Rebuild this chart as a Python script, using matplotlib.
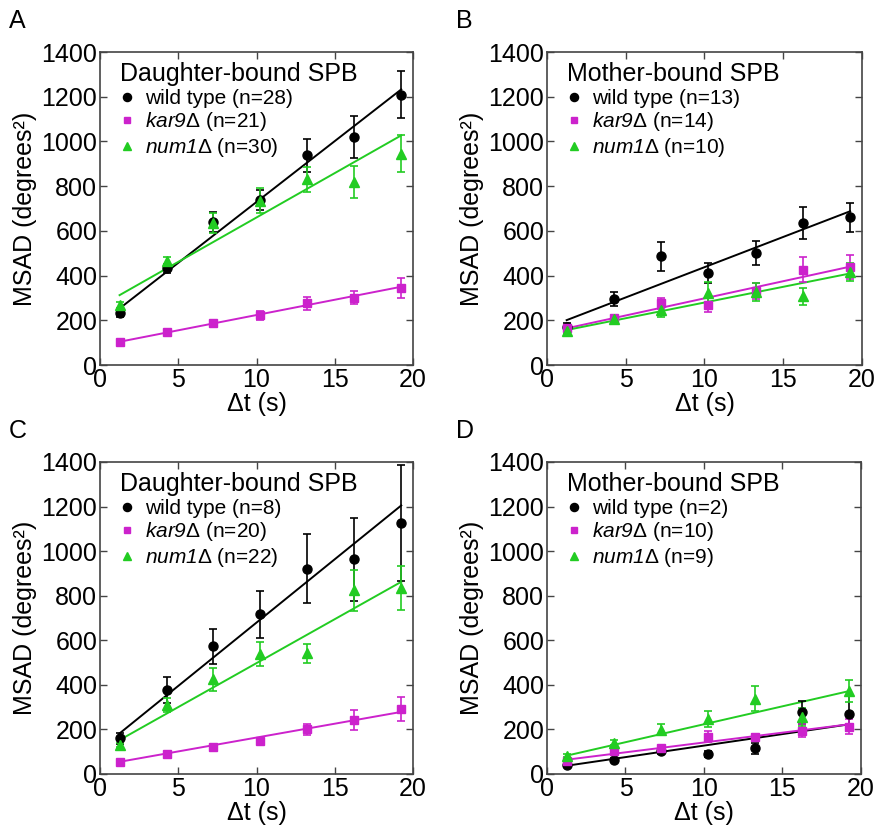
import numpy as np
import matplotlib
matplotlib.use("Agg")
import matplotlib.pyplot as plt

plt.rcParams['font.family'] = ['Liberation Sans', 'DejaVu Sans']
plt.rcParams['mathtext.fontset'] = 'custom'
plt.rcParams['mathtext.it'] = 'Liberation Sans:italic'
plt.rcParams['mathtext.rm'] = 'Liberation Sans:italic'  # so the digit in kar9 / num1 is italic too

# time lags (s)
dt = np.array([1.25, 4.25, 7.25, 10.25, 13.25, 16.25, 19.25])

# panel A - daughter-bound SPB
a_wt = [231, 432, 640, 740, 938, 1020, 1209]
a_wt_err = [15, 22, 45, 45, 75, 95, 105]
a_kar9 = [101, 147, 189, 223, 276, 301, 343]
a_kar9_err = [6, 8, 10, 20, 30, 30, 45]
a_num1 = [268, 466, 636, 735, 830, 819, 946]
a_num1_err = [12, 15, 45, 55, 55, 73, 82]

# panel B - mother-bound SPB
b_wt = [171, 295, 487, 413, 502, 636, 660]
b_wt_err = [15, 33, 65, 45, 53, 73, 65]
b_kar9 = [164, 209, 276, 268, 332, 427, 439]
b_kar9_err = [10, 10, 25, 30, 35, 55, 55]
b_num1 = [152, 206, 246, 323, 328, 308, 417]
b_num1_err = [10, 12, 30, 50, 40, 38, 40]

# panel C - daughter-bound SPB
c_wt = [160, 376, 573, 717, 922, 963, 1128]
c_wt_err = [25, 57, 78, 105, 157, 187, 260]
c_kar9 = [52, 90, 122, 149, 200, 242, 291]
c_kar9_err = [6, 8, 8, 10, 25, 45, 55]
c_num1 = [130, 309, 424, 538, 541, 824, 836]
c_num1_err = [10, 30, 52, 53, 43, 93, 98]

# panel D - mother-bound SPB
d_wt = [42, 64, 101, 89, 116, 276, 271]
d_wt_err = [8, 8, 12, 12, 25, 52, 78]
d_kar9 = [60, 101, 115, 167, 164, 194, 213]
d_kar9_err = [6, 10, 10, 25, 15, 30, 35]
d_num1 = [82, 141, 198, 246, 338, 256, 372]
d_num1_err = [8, 12, 25, 35, 55, 40, 50]

# fitted lines (slope, intercept)
fits = {
    'A': [(54.44, 185), (13.67, 87), (39.7, 263)],
    'B': [(27.06, 167), (15.33, 145), (14.06, 139)],
    'C': [(56.83, 111), (12.44, 39), (39.44, 103)],
    'D': [(10.33, 24), (8.83, 53), (16.11, 62)],
}

panels = [
    ('A', 'Daughter-bound SPB', [a_wt, a_kar9, a_num1], [a_wt_err, a_kar9_err, a_num1_err], (28, 21, 30)),
    ('B', 'Mother-bound SPB', [b_wt, b_kar9, b_num1], [b_wt_err, b_kar9_err, b_num1_err], (13, 14, 10)),
    ('C', 'Daughter-bound SPB', [c_wt, c_kar9, c_num1], [c_wt_err, c_kar9_err, c_num1_err], (8, 20, 22)),
    ('D', 'Mother-bound SPB', [d_wt, d_kar9, d_num1], [d_wt_err, d_kar9_err, d_num1_err], (2, 10, 9)),
]

colors = ['black', '#cc22cc', '#22cc22']
markers = ['o', 's', '^']
msizes = [6.5, 5.5, 7]
names = ['wild type', r'$kar9$Δ', r'$num1$Δ']

fig = plt.figure(figsize=(8.75, 8.3), dpi=100)
positions = {
    'A': [0.1143, 0.5602, 0.3577, 0.3771],
    'B': [0.6251, 0.5602, 0.3600, 0.3771],
    'C': [0.1143, 0.0675, 0.3577, 0.3759],
    'D': [0.6251, 0.0675, 0.3589, 0.3759],
}

for letter, title, ys, errs, ns in panels:
    ax = fig.add_axes(positions[letter])
    handles = []
    for k in range(3):
        slope, icpt = fits[letter][k]
        ax.plot(dt, slope * dt + icpt, color=colors[k], lw=1.4, zorder=2)
        ax.errorbar(dt, ys[k], yerr=errs[k], fmt='none', ecolor=colors[k],
                    elinewidth=1.2, capsize=3, capthick=1.2, zorder=3)
        h, = ax.plot(dt, ys[k], ls='none', marker=markers[k], ms=msizes[k],
                     color=colors[k], zorder=4,
                     label=f'{names[k]} (n={ns[k]})')
        handles.append(h)

    leg = ax.legend(handles=handles, loc='upper left', frameon=False,
                    title=title, title_fontsize=18, fontsize=15,
                    handlelength=0.7, handletextpad=0.5, labelspacing=0.12,
                    borderaxespad=0.2, bbox_to_anchor=(0.03, 1.0),
                    markerscale=0.9, borderpad=0.3)
    leg._legend_box.align = 'left'

    ax.set_xlim(0, 20)
    ax.set_ylim(0, 1400)
    ax.set_xticks([0, 5, 10, 15, 20])
    ax.set_yticks(range(0, 1401, 200))
    ax.tick_params(direction='in', length=5, width=1, color='#444444',
                   labelsize=18, top=True, right=True, pad=2)
    for s in ax.spines.values():
        s.set_color('#444444')
        s.set_linewidth(1.2)
    ax.set_xlabel('Δt (s)', fontsize=18, labelpad=0)
    ax.set_ylabel('MSAD (degrees²)', fontsize=18, labelpad=3,
                  family=['Liberation Sans', 'DejaVu Sans'])
    ax.text(-0.29, 1.06, letter, transform=ax.transAxes, fontsize=18,
            ha='left', va='bottom')

fig.savefig('out.png', dpi=100)
